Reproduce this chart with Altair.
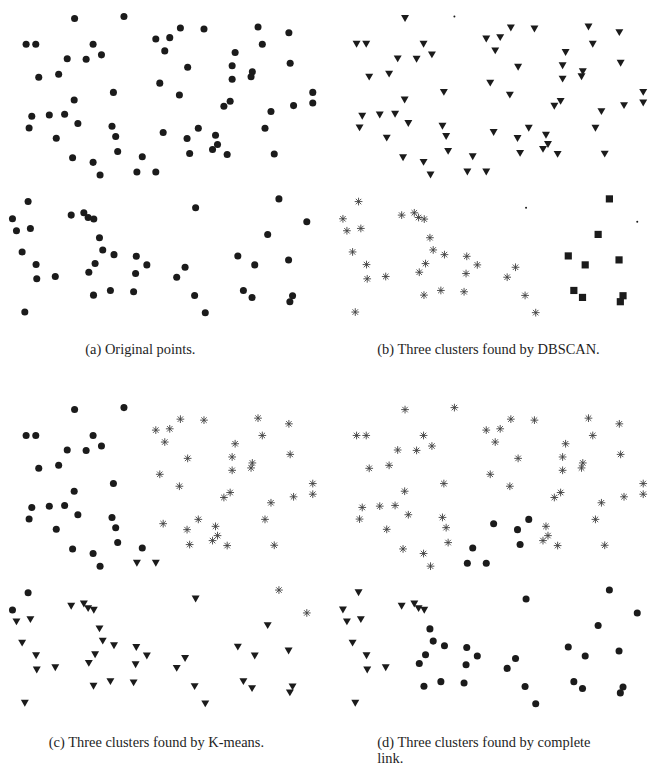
import altair as alt
import pandas as pd

# point coordinates (x to the right, y downward)
px = [70.7, 120.3, 22, 31.7, 89.3, 152.3, 161.3, 63.3, 82.3, 97.7,
      34.7, 54.7, 156.3, 109.7, 70.3, 27.7, 45.3, 60.7, 74, 25,
      108.3, 112, 52.3, 159.7, 114, 68.7, 89.3, 138.7, 166.3, 177,
      200.7, 255, 286, 259.3, 232, 184.3, 229, 287.3, 249.3, 248,
      229, 176, 310, 310, 227, 220.7, 268, 290.7, 262, 195,
      183.7, 212.3, 214.3, 209.3, 186.3, 224, 271.3, 96.3, 133.3, 152.3,
      24, 8.3, 12.3, 26.3, 67.3, 80, 84.3, 90, 95.7, 99,
      110.3, 132.7, 143.3, 91.3, 85, 132, 18, 32, 32.7, 51.3,
      89.7, 106.7, 130, 20.7, 192.3, 276, 304, 264.7, 234.7, 251.7,
      285.7, 181.7, 173.3, 191.3, 202, 240.3, 249, 289.7, 287]
py = [16.7, 14.7, 42.7, 42.7, 42.7, 37.3, 49.3, 57.3, 57.7, 53.3,
      75.7, 72.7, 81.7, 91, 98.7, 115, 113.7, 113, 122.3, 126.7,
      125, 135.3, 137, 131.3, 150.3, 156.7, 161.3, 155.7, 36, 26.3,
      27.3, 25.3, 31, 42.7, 51, 65.7, 64.3, 61.7, 70.3, 75.3,
      77.7, 93.7, 91, 101.7, 100, 105, 110.3, 104.3, 127, 127,
      137.3, 134, 143.3, 148.3, 152.3, 153.3, 153, 174, 171, 171,
      200.7, 218, 230, 227.7, 214.3, 212, 216.7, 218.3, 237, 249.3,
      254, 255.7, 264.3, 263, 271.7, 273, 251.3, 264, 278.3, 276,
      294.7, 290, 291.3, 311.7, 207, 198, 221, 233.7, 255.3, 264.3,
      259.3, 266.7, 276.7, 295, 312.3, 290, 297, 295.3, 301.3]

# marker codes: o circle, v triangle, s asterisk, q square, n noise dot
lab_a = list("o" * 99)
lab_b = list("vnvvvvvvvv" "vvvvvvvvvv" "vvvvvvvvvv" "vvvvvvvvvv" "vvvvvvvvvv"
             "vvvvvvvvvv" "ssssssssss" "ssssssssss" "ssssnqnqqq" "qssssqqqq")
lab_c = list("ooooossooo" "oosooooooo" "ooosooooss" "ssssssssss" "ssssssssss"
             "sssssssovv" "oovvvvvvvv" "vvvvvvvvvv" "vvvvvssvvv" "vvvvvvvvv")
lab_d = list("ssssssssss" "ssssssssss" "sssosssoss" "ssssssssss" "ssssssssso"
             "osssosssoo" "vvvvvvvvoo" "oooooovvvv" "ooovoooooo" "ooooooooo")

captions = {
    "a": ["(a) Original points."],
    "b": ["(b) Three clusters found by DBSCAN."],
    "c": ["(c) Three clusters found by K-means."],
    "d": ["(d) Three clusters found by complete", "link."],
}

df = pd.DataFrame({"x": px, "y": py, "a": lab_a, "b": lab_b, "c": lab_c, "d": lab_d})

C = "#1b1b1b"
STAR = "M-1,0L1,0M0,-1L0,1M-0.71,-0.71L0.71,0.71M-0.71,0.71L0.71,-0.71"
STYLE = {
    "o": dict(shape="circle", filled=True, size=50, color=C),
    "v": dict(shape="triangle-down", filled=True, size=64, color=C),
    "q": dict(shape="square", filled=True, size=52, color=C),
    "n": dict(shape="circle", filled=True, size=4, color=C),
    "s": dict(shape=STAR, filled=False, size=60, color="#404040", strokeWidth=0.9),
}

W1, W2, H1, H2 = 332, 305, 393, 368
OX, OY = 4.8, 8
FONT = "Liberation Serif, serif"


def panel(field, w, h, cap_lines, cap_x, cap_y, align):
    base = alt.Chart(df).encode(
        x=alt.X("x:Q", scale=alt.Scale(domain=[OX, OX + w], nice=False, zero=False), axis=None),
        y=alt.Y("y:Q", scale=alt.Scale(domain=[OY, OY + h], nice=False, zero=False, reverse=True), axis=None),
    )
    layers = []
    for code, st in STYLE.items():
        if code in df[field].values:
            layers.append(
                base.transform_filter(alt.datum[field] == code).mark_point(opacity=1, **st)
            )
    for i, line in enumerate(cap_lines):
        layers.append(
            alt.Chart(alt.Data(values=[{"t": line}]))
            .mark_text(font=FONT, fontSize=14.5, color="#1e1e1e", align=align, baseline="alphabetic")
            .encode(text="t:N", x=alt.value(cap_x), y=alt.value(cap_y + 16 * i))
        )
    return alt.layer(*layers).properties(width=w, height=h)


pa = panel("a", W1, H1, captions["a"], 132, 346, "center")
pb = panel("b", W2, H1, captions["b"], 38, 346, "left")
pc = panel("c", W1, H2, captions["c"], 40, 348, "left")
pd_ = panel("d", W2, H2, captions["d"], 38, 348, "left")

chart = (
    alt.concat(pa, pb, pc, pd_, columns=2, spacing=0, bounds="flush")
    .resolve_scale(x="independent", y="independent")
    .properties(padding=0)
    .configure_view(stroke=None)
)

chart.save("out.html", embed_options={"renderer": "svg", "actions": False})
